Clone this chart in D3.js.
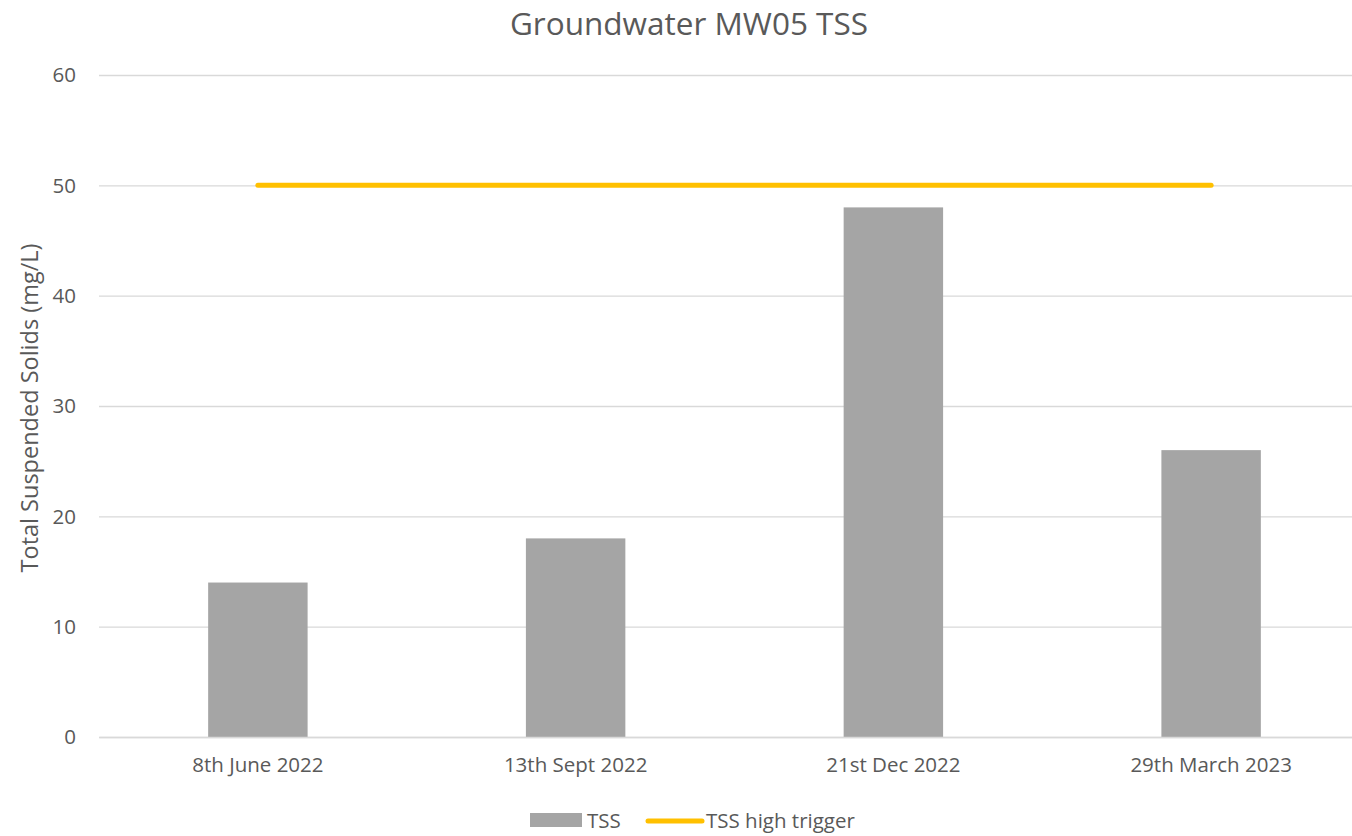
<!DOCTYPE html>
<html>
<head>
<meta charset="utf-8">
<script src="https://cdn.jsdelivr.net/npm/d3@7"></script>
<style>
  html, body { margin: 0; padding: 0; background: #fff; }
  svg { display: block; }
  text { font-family: "Open Sans", "Noto Sans", sans-serif; fill: #595959; }
</style>
</head>
<body>
<svg id="chart" width="1352" height="836"></svg>
<script>
const categories = ["8th June 2022", "13th Sept 2022", "21st Dec 2022", "29th March 2023"];
const tssValues = [14, 18, 48, 26];
const triggerValues = [50, 50, 50, 50];
const yTicks = [0, 10, 20, 30, 40, 50, 60];
const titleText = "Groundwater MW05 TSS";
const yAxisTitle = "Total Suspended Solids (mg/L)";
const seriesNames = ["TSS", "TSS high trigger"];

const svg = d3.select("#chart");
const m = { left: 99, right: 1370, top: 75, bottom: 737 };

const x = d3.scaleBand().domain(categories).range([m.left, m.right]).paddingInner(0.687).paddingOuter(0.3435);
const y = d3.scaleLinear().domain([0, 60]).range([m.bottom, m.top]);

// gridlines
const grid = d3.axisLeft(y).tickValues(yTicks).tickSize(-(m.right - m.left)).tickFormat("");
svg.append("g").attr("transform", `translate(${m.left},0)`).call(grid)
  .call(g => g.select(".domain").remove())
  .call(g => g.selectAll("line").attr("stroke", "#d9d9d9").attr("stroke-width", 1.3));

// y tick labels
const yAxis = d3.axisLeft(y).tickValues(yTicks).tickSize(0).tickPadding(23);
svg.append("g").attr("transform", `translate(${m.left},0)`).call(yAxis)
  .call(g => g.select(".domain").remove())
  .call(g => g.selectAll("text").style("font-size", "20.5px").attr("fill", "#595959").attr("dy", "0.34em"));

// bars
svg.append("g").selectAll("rect").data(tssValues).join("rect")
  .attr("x", (d, i) => x(categories[i]))
  .attr("width", x.bandwidth())
  .attr("y", d => y(d))
  .attr("height", d => y(0) - y(d))
  .attr("fill", "#a5a5a5");

// x axis
const xAxis = d3.axisBottom(x).tickSize(0).tickPadding(22);
svg.append("g").attr("transform", `translate(0,${m.bottom})`).call(xAxis)
  .call(g => g.select(".domain").attr("stroke", "#d9d9d9").attr("stroke-width", 1.3))
  .call(g => g.selectAll("text").style("font-size", "20.5px").attr("fill", "#595959").attr("dy", "0.62em"));

// trigger line
const line = d3.line().x((d, i) => x(categories[i]) + x.bandwidth() / 2).y(d => y(d));
svg.append("path").datum(triggerValues)
  .attr("d", line).attr("fill", "none")
  .attr("stroke", "#ffc000").attr("stroke-width", 5).attr("stroke-linecap", "round");

// title
svg.append("text").attr("x", 689).attr("y", 35).attr("text-anchor", "middle")
  .style("font-size", "31.5px").text(titleText);

// y axis title
svg.append("text").attr("transform", "translate(38,408) rotate(-90)").attr("text-anchor", "middle")
  .style("font-size", "23.5px").text(yAxisTitle);

// legend
const lg = svg.append("g");
lg.append("rect").attr("x", 530).attr("y", 813).attr("width", 52).attr("height", 14).attr("fill", "#a5a5a5");
lg.append("text").attr("x", 587).attr("y", 828).style("font-size", "20.5px").text(seriesNames[0]);
lg.append("line").attr("x1", 648).attr("x2", 702).attr("y1", 821).attr("y2", 821)
  .attr("stroke", "#ffc000").attr("stroke-width", 5).attr("stroke-linecap", "round");
lg.append("text").attr("x", 706).attr("y", 828).style("font-size", "20.5px").text(seriesNames[1]);
</script>
</body>
</html>
